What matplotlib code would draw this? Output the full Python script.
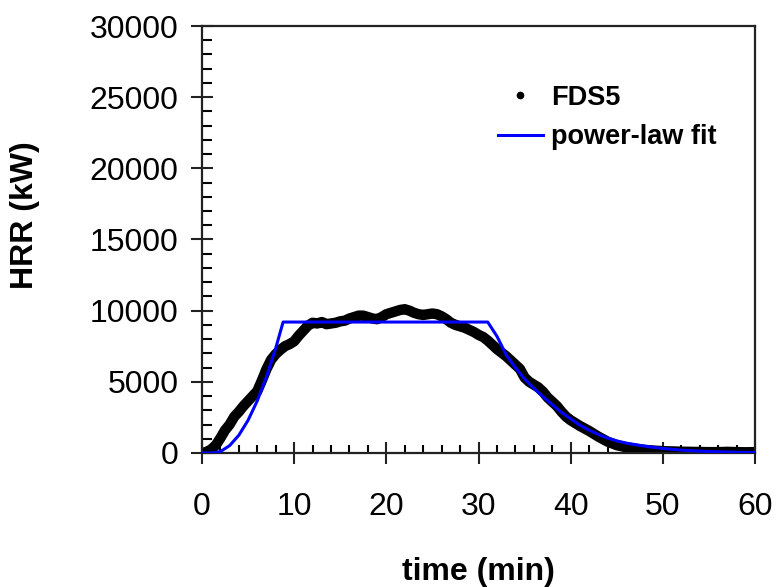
import matplotlib.pyplot as plt
from matplotlib.lines import Line2D
from matplotlib.ticker import MultipleLocator

plt.rcParams['font.family'] = ['Liberation Sans', 'DejaVu Sans']

# ======= FDS5 simulation =======
fds_time = [0, 0.5, 1, 1.5, 2, 2.5, 3, 3.5, 4, 4.5, 5, 5.5, 6, 6.5, 7, 7.5, 8, 8.5,
            9, 9.5, 10, 10.5, 11, 11.5, 12, 12.5, 13, 13.5, 14, 14.5, 15, 15.5, 16,
            16.5, 17, 17.5, 18, 18.5, 19, 19.5, 20, 20.5, 21, 21.5, 22, 22.5, 23,
            23.5, 24, 24.5, 25, 25.5, 26, 26.5, 27, 27.5, 28, 28.5, 29, 29.5, 30,
            30.5, 31, 31.5, 32, 32.5, 33, 33.5, 34, 34.5, 35, 35.5, 36, 36.5, 37,
            37.5, 38, 38.5, 39, 39.5, 40, 41, 42, 43, 44, 45, 46, 47, 48, 49, 50,
            51, 52, 53, 54, 55, 56, 57, 58, 59, 60]
fds_hrr = [0, 80, 250, 550, 1050, 1600, 2000, 2550, 2900, 3300, 3650, 4000, 4350,
           5100, 5900, 6550, 6950, 7250, 7500, 7650, 7850, 8250, 8600, 8950, 9150,
           9100, 9200, 9050, 9100, 9150, 9250, 9300, 9450, 9550, 9650, 9650, 9550,
           9450, 9400, 9550, 9750, 9850, 9950, 10050, 10100, 10000, 9850, 9750,
           9700, 9750, 9800, 9750, 9600, 9400, 9150, 9000, 8900, 8800, 8650, 8500,
           8300, 8150, 7900, 7600, 7300, 7050, 6800, 6500, 6200, 5900, 5300, 5000,
           4800, 4600, 4300, 3900, 3600, 3300, 2900, 2550, 2300, 1900, 1550, 1150,
           800, 550, 400, 300, 220, 170, 130, 110, 90, 80, 70, 60, 60, 80, 60,
           50, 60]

# ======= Power-law fit =======
fit_time = [0, 1.2, 2, 3, 4, 5, 6, 7, 8, 8.8, 31, 32, 33, 34, 35, 36, 37, 38, 39,
            40, 41, 42, 43, 44, 45, 46, 48, 50, 52, 55, 58, 60]
fit_hrr = [0, 0, 100, 520, 1250, 2300, 3670, 5350, 7370, 9200, 9200, 8200, 6900,
           6000, 5200, 4550, 3950, 3400, 2850, 2400, 1950, 1600, 1300, 1050, 850,
           700, 480, 320, 200, 100, 50, 30]

fig = plt.figure(figsize=(7.76, 5.87), dpi=100)
ax = fig.add_axes([0.2603, 0.2283, 0.7127, 0.7274])

ax.plot(fds_time, fds_hrr, color='black', lw=7.5, solid_capstyle='round',
        solid_joinstyle='round', zorder=2)
ax.plot(fit_time, fit_hrr, color='#0000ff', lw=2.2, zorder=3)

ax.set_xlim(0, 60)
ax.set_ylim(0, 30000)
ax.xaxis.set_major_locator(MultipleLocator(10))
ax.xaxis.set_minor_locator(MultipleLocator(2))
ax.yaxis.set_major_locator(MultipleLocator(5000))
ax.yaxis.set_minor_locator(MultipleLocator(1000))

ax.tick_params(axis='both', which='major', direction='inout', length=16,
               width=1.5, labelsize=23, color='#222222')
ax.tick_params(axis='x', which='minor', direction='in', length=6, width=1.5)
ax.tick_params(axis='y', which='minor', direction='in', length=7, width=1.5)
ax.tick_params(axis='x', which='major', pad=20)
ax.tick_params(axis='y', which='major', pad=9)
for s in ax.spines.values():
    s.set_linewidth(1.6)
    s.set_color('#222222')

ax.set_xlabel('time (min)', fontsize=23, fontweight='bold')
ax.set_ylabel('HRR (kW)', fontsize=23, fontweight='bold')
ax.xaxis.set_label_coords(0.5, -0.2436)
ax.yaxis.set_label_coords(-0.293, 0.557)

handles = [Line2D([], [], marker='o', markersize=4.5, color='black', ls='none'),
           Line2D([], [], color='#0000ff', lw=2.2)]
ax.legend(handles, ['FDS5', 'power-law fit'], loc='upper left',
          bbox_to_anchor=(0.535, 0.862), frameon=False, borderpad=0,
          borderaxespad=0, handlelength=1.66, handletextpad=0.3,
          labelspacing=0.5, prop={'size': 19.5, 'weight': 'bold'})

fig.savefig('out.png', dpi=100)
